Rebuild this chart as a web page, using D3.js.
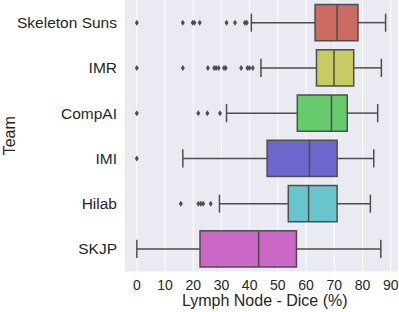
<!DOCTYPE html>
<html>
<head>
<meta charset="utf-8">
<script src="https://cdn.jsdelivr.net/npm/d3@7"></script>
<style>
    body { margin: 0; background: #fff; }
    text { font-family: "Liberation Sans", Arial, sans-serif; fill: #262626; }
</style>
</head>
<body>
<div id="chart"></div>
<script>
// team order, top to bottom
let teams = ["Skeleton Suns", "IMR", "CompAI", "IMI", "Hilab", "SKJP"];

// box stats (Dice %)
let q1 = [63.2, 63.7, 56.9, 46.2, 53.7, 22.4];
let medians = [71.0, 69.9, 69.0, 61.2, 60.9, 43.2];
let q3 = [78.4, 76.9, 74.6, 71.0, 71.0, 56.6];
let whiskerLow = [40.6, 44.0, 31.8, 16.3, 29.3, 0];
let whiskerHigh = [88.2, 86.7, 85.4, 84.0, 82.8, 86.5];

let outliers = [
    [0, 16.3, 19.8, 20.4, 22.3, 31.8, 34.8, 38.3, 39.0],
    [0, 16.3, 25.2, 27.4, 28.1, 29.0, 30.9, 31.5, 37.0, 39.2, 39.9, 41.1],
    [0, 21.8, 25.0, 29.5],
    [0],
    [15.6, 21.8, 22.7, 23.5, 26.2],
    []
];

let ticks = [0, 10, 20, 30, 40, 50, 60, 70, 80, 90];

let colours = ["#cb6b62", "#c6cb64", "#67cb6d", "#6d67cb", "#67c5cb", "#cb67c5"];

let width = 399, height = 312;
let margin = {top: 0, right: 1, bottom: 40.5, left: 125};

let svg = d3.select("#chart").append("svg")
    .attr("width", width)
    .attr("height", height);

let x = d3.scaleLinear()
    .domain([-4.2, 92.6])
    .range([margin.left, width - margin.right]);

let y = d3.scaleBand()
    .domain(teams)
    .range([margin.top, height - margin.bottom])
    .paddingInner(0.2)
    .paddingOuter(0.1);

// background + grid
svg.append("rect")
    .attr("x", margin.left)
    .attr("y", margin.top)
    .attr("width", width - margin.right - margin.left)
    .attr("height", height - margin.bottom - margin.top)
    .attr("fill", "#eaeaf2");

svg.selectAll(".grid")
    .data(ticks)
    .enter()
    .append("line")
    .attr("class", "grid")
    .attr("x1", d => x(d))
    .attr("x2", d => x(d))
    .attr("y1", margin.top)
    .attr("y2", height - margin.bottom)
    .attr("stroke", "#fff")
    .attr("stroke-width", 1);

let stroke = "#4d4d4d";
let rows = teams.map((t, i) => ({team: t, i: i}));

let g = svg.selectAll(".box")
    .data(rows)
    .enter()
    .append("g")
    .attr("class", "box");

let bw = y.bandwidth();
let mid = d => y(d.team) + bw / 2;

// whiskers
g.append("line")
    .attr("x1", d => x(whiskerLow[d.i]))
    .attr("x2", d => x(q1[d.i]))
    .attr("y1", mid).attr("y2", mid)
    .attr("stroke", stroke).attr("stroke-width", 1.5);
g.append("line")
    .attr("x1", d => x(q3[d.i]))
    .attr("x2", d => x(whiskerHigh[d.i]))
    .attr("y1", mid).attr("y2", mid)
    .attr("stroke", stroke).attr("stroke-width", 1.5);

// caps
[whiskerLow, whiskerHigh].forEach(arr => {
    g.append("line")
        .attr("x1", d => x(arr[d.i]))
        .attr("x2", d => x(arr[d.i]))
        .attr("y1", d => mid(d) - bw / 4)
        .attr("y2", d => mid(d) + bw / 4)
        .attr("stroke", stroke).attr("stroke-width", 1.5);
});

// boxes
g.append("rect")
    .attr("x", d => x(q1[d.i]))
    .attr("y", d => y(d.team))
    .attr("width", d => x(q3[d.i]) - x(q1[d.i]))
    .attr("height", bw)
    .attr("fill", d => colours[d.i])
    .attr("stroke", stroke)
    .attr("stroke-width", 1.5);

// medians
g.append("line")
    .attr("x1", d => x(medians[d.i]))
    .attr("x2", d => x(medians[d.i]))
    .attr("y1", d => y(d.team))
    .attr("y2", d => y(d.team) + bw)
    .attr("stroke", stroke).attr("stroke-width", 1.5);

// outliers as thin diamonds
g.selectAll(".flier")
    .data(d => outliers[d.i].map(v => ({v: v, team: d.team})))
    .enter()
    .append("path")
    .attr("class", "flier")
    .attr("d", d => {
        let cx = x(d.v), cy = mid(d);
        return `M${cx},${cy - 3}L${cx + 2},${cy}L${cx},${cy + 3}L${cx - 2},${cy}Z`;
    })
    .attr("fill", stroke);

// y labels
svg.selectAll(".ylabel")
    .data(teams)
    .enter()
    .append("text")
    .attr("class", "ylabel")
    .attr("x", margin.left - 8)
    .attr("y", d => y(d) + bw / 2)
    .attr("dy", "0.35em")
    .attr("text-anchor", "end")
    .style("font-size", "15.5px")
    .text(d => d);

// x tick labels
svg.selectAll(".xlabel")
    .data(ticks)
    .enter()
    .append("text")
    .attr("class", "xlabel")
    .attr("x", d => x(d))
    .attr("y", 289.5)
    .attr("text-anchor", "middle")
    .style("font-size", "14px")
    .text(d => d);

// axis titles
svg.append("text")
    .attr("x", x(0) + (x(90) - x(0)) / 2 + 1)
    .attr("y", 306)
    .attr("text-anchor", "middle")
    .style("font-size", "16px")
    .text("Lymph Node - Dice (%)");

svg.append("text")
    .attr("transform", `translate(15, ${(height - margin.bottom) / 2}) rotate(-90)`)
    .attr("text-anchor", "middle")
    .style("font-size", "16px")
    .text("Team");
</script>
</body>
</html>
